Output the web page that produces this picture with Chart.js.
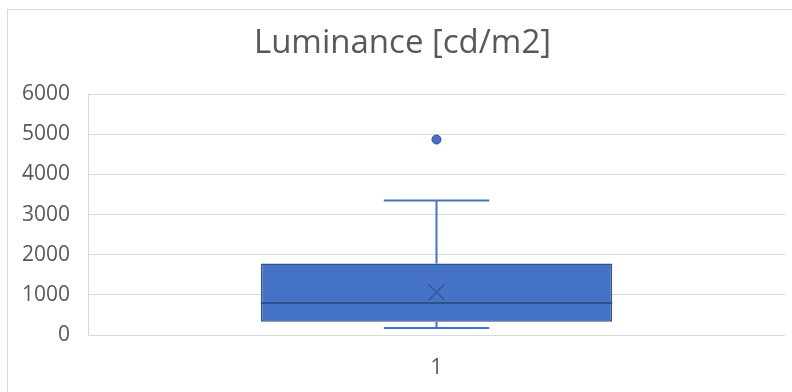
<!DOCTYPE html>
<html>
<head>
<meta charset="utf-8">
<script src="https://cdn.jsdelivr.net/npm/chart.js@4.4.1/dist/chart.umd.min.js"></script>
<style>
  html, body { margin: 0; padding: 0; background: #ffffff; }
  #wrap { position: relative; width: 792px; height: 392px; overflow: hidden; }
  #frame { position: absolute; left: 7px; top: 9px; width: 800px; height: 400px; border: 1px solid #d9d9d9; box-sizing: border-box; }
  canvas { position: absolute; left: 0; top: 0; }
</style>
</head>
<body>
<div id="wrap">
  <div id="frame"></div>
  <canvas id="c" width="792" height="392"></canvas>
</div>
<script>
const categories = ['1'];
const q1 = [331];
const q3 = [1783];
const median = [796];
const mean = [1062];
const whiskerMin = [174];
const whiskerMax = [3350];
const outliers = [4868];
const yTicks = [0, 1000, 2000, 3000, 4000, 5000, 6000];

const boxFill = '#4472C4';
const boxEdge = '#2F528F';

const boxPlugin = {
  id: 'boxWhiskers',
  afterDatasetsDraw(chart) {
    const ctx = chart.ctx;
    const meta = chart.getDatasetMeta(0);
    const y = chart.scales.y;
    meta.data.forEach((bar, i) => {
      const cx = bar.x;
      const half = bar.width / 2;
      const cap = bar.width * 0.15;
      const yQ1 = y.getPixelForValue(q1[i]);
      const yQ3 = y.getPixelForValue(q3[i]);
      const yMin = y.getPixelForValue(whiskerMin[i]);
      const yMax = y.getPixelForValue(whiskerMax[i]);
      const yMed = y.getPixelForValue(median[i]);
      ctx.save();
      ctx.strokeStyle = boxFill;
      ctx.lineWidth = 2;
      ctx.beginPath();
      ctx.moveTo(cx, yQ3); ctx.lineTo(cx, yMax);
      ctx.moveTo(cx - cap, yMax); ctx.lineTo(cx + cap, yMax);
      ctx.moveTo(cx, yQ1); ctx.lineTo(cx, yMin);
      ctx.moveTo(cx - cap, yMin); ctx.lineTo(cx + cap, yMin);
      ctx.stroke();
      ctx.strokeStyle = boxEdge;
      ctx.lineWidth = 2;
      ctx.beginPath();
      ctx.moveTo(cx - half, yMed); ctx.lineTo(cx + half, yMed);
      ctx.stroke();
      ctx.restore();
    });
  }
};

new Chart(document.getElementById('c'), {
  data: {
    labels: categories,
    datasets: [
      {
        type: 'bar',
        data: q1.map((v, i) => [v, q3[i]]),
        backgroundColor: boxFill,
        borderColor: boxEdge,
        borderWidth: 1.5,
        borderSkipped: false,
        barPercentage: 0.504,
        categoryPercentage: 1,
        order: 3
      },
      {
        type: 'line',
        data: mean,
        showLine: false,
        pointStyle: 'crossRot',
        pointRadius: 11,
        pointBorderColor: '#34599F',
        pointBorderWidth: 1.5,
        order: 1
      },
      {
        type: 'line',
        data: outliers,
        showLine: false,
        pointStyle: 'circle',
        pointRadius: 4.5,
        pointBackgroundColor: boxFill,
        pointBorderColor: boxEdge,
        pointBorderWidth: 1,
        order: 1
      }
    ]
  },
  options: {
    responsive: false,
    animation: false,
    events: [],
    layout: { autoPadding: false, padding: { left: 20, right: 7, top: 0, bottom: 0 } },
    plugins: {
      legend: { display: false },
      tooltip: { enabled: false },
      title: {
        display: true,
        text: 'Luminance [cd/m2]',
        color: '#595959',
        font: { family: 'Open Sans', size: 33, weight: 'normal' },
        padding: { top: 23.5, bottom: 31 }
      }
    },
    scales: {
      x: {
        type: 'category',
        grid: { display: false, drawTicks: false },
        border: { display: false },
        afterFit(scale) { scale.height = 57; },
        ticks: { color: '#595959', font: { family: 'Open Sans', size: 21 }, padding: 20 }
      },
      y: {
        type: 'linear',
        min: 0,
        max: 6000,
        afterBuildTicks(scale) { scale.ticks = yTicks.map(v => ({ value: v })); },
        afterFit(scale) { scale.width = 68; },
        grid: { color: '#d9d9d9', lineWidth: 1, drawTicks: false },
        border: { display: true, color: '#d9d9d9', width: 1 },
        ticks: {
          color: '#595959',
          font: { family: 'Open Sans', size: 21 },
          padding: 18,
          callback: (v) => String(v)
        }
      }
    }
  },
  plugins: [boxPlugin]
});
</script>
</body>
</html>
